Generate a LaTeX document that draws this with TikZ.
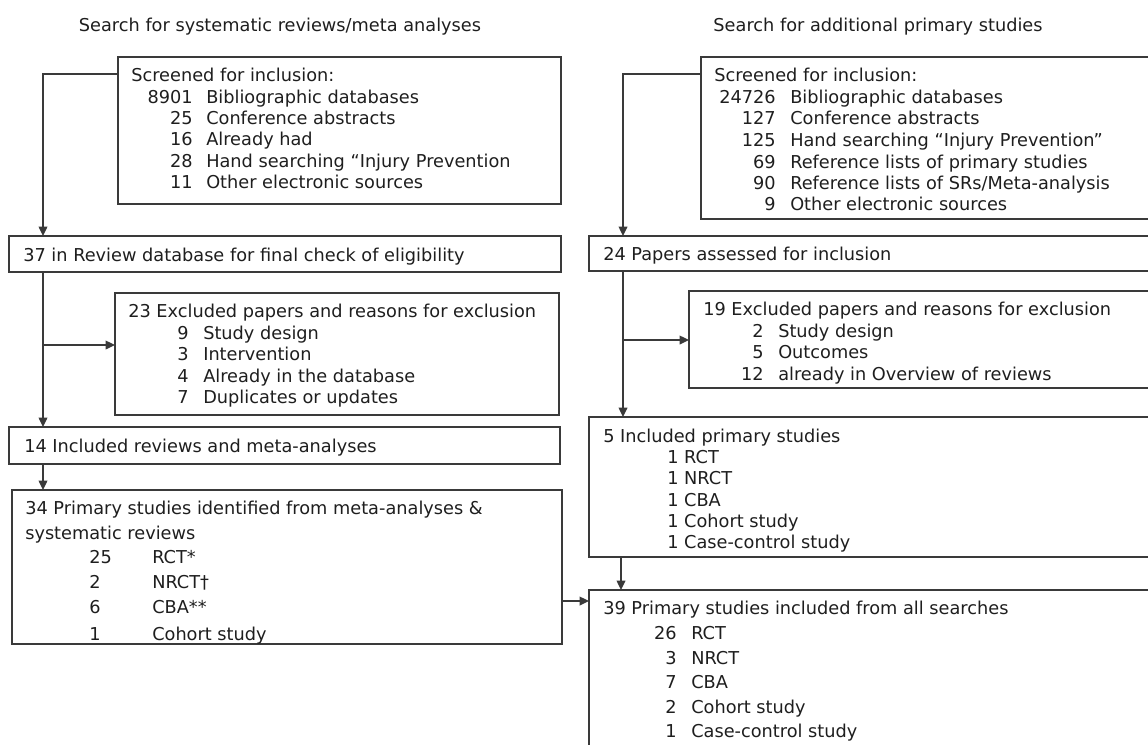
\documentclass[tikz,border=0pt]{standalone}
\usepackage{fontspec}
\setmainfont{DejaVu Sans}
\usetikzlibrary{arrows.meta,calc}
\definecolor{linec}{HTML}{3A3A3A}
\definecolor{txtc}{HTML}{1E1E1E}
\tikzset{
  box/.style={draw=linec, line width=1pt, inner sep=0pt, outer sep=0pt, anchor=north west},
  arr/.style={draw=linec, line width=1pt, -{Triangle[length=7pt,width=6.5pt]}},
  txt/.style={anchor=base west, inner sep=0pt, text=txtc},
  num/.style={anchor=base east, inner sep=0pt, text=txtc},
  ttl/.style={anchor=base, inner sep=0pt, text=txtc}
}
\newcommand\mkbox[5]{\node[box,minimum width={(#4-#2)*0.75pt},minimum height={(#5-#3)*0.75pt}] (#1) at (#2,#3) {};}
\begin{document}
\begin{tikzpicture}[x=0.75pt,y=-0.75pt,font=\fontsize{13.3}{16}\selectfont]
\useasboundingbox (0,0) rectangle (1148,744);
\clip (0,0) rectangle (1148,744);
% titles
\node[ttl] (t1) at (280,31) {Search for systematic reviews/meta analyses};
\node[ttl] (t2) at (878,31) {Search for additional primary studies};
% boxes
\mkbox{A1}{118}{57}{561}{204}
\mkbox{A2}{9}{236}{561}{272}
\mkbox{A3}{115}{293}{559}{415}
\mkbox{A4}{9}{427}{560}{464}
\mkbox{A5}{12}{490}{562}{644}
\mkbox{B1}{701}{57}{1160}{219}
\mkbox{B2}{589}{236}{1160}{271}
\mkbox{B3}{689}{291}{1160}{388}
\mkbox{B4}{589}{417}{1160}{557}
\mkbox{B5}{589}{590}{1160}{760}
% A1 text
\node[txt] (a1h) at (131,81) {Screened for inclusion:};
\node[num] (a1n1) at (193,103) {8901}; \node[txt] (a1l1) at (206,103) {Bibliographic databases};
\node[num] (a1n2) at (193,124) {25};   \node[txt] (a1l2) at (206,124) {Conference abstracts};
\node[num] (a1n3) at (193,145) {16};   \node[txt] (a1l3) at (206,145) {Already had};
\node[num] (a1n4) at (193,167) {28};   \node[txt] (a1l4) at (206,167) {Hand searching “Injury Prevention};
\node[num] (a1n5) at (193,188) {11};   \node[txt] (a1l5) at (206,188) {Other electronic sources};
% A2
\node[txt] (a2h) at (23,261) {37 in Review database for final check of eligibility};
% A3
\node[txt] (a3h) at (128,317) {23 Excluded papers and reasons for exclusion};
\node[num] (a3n1) at (189,339) {9}; \node[txt] (a3l1) at (203,339) {Study design};
\node[num] (a3n2) at (189,360) {3}; \node[txt] (a3l2) at (203,360) {Intervention};
\node[num] (a3n3) at (189,382) {4}; \node[txt] (a3l3) at (203,382) {Already in the database};
\node[num] (a3n4) at (189,403) {7}; \node[txt] (a3l4) at (203,403) {Duplicates or updates};
% A4
\node[txt] (a4h) at (24,452) {14 Included reviews and meta-analyses};
% A5
\begin{scope}
\clip (A5.north west) rectangle (A5.south east);
\node[txt] (a5h) at (25,514) {34 Primary studies identified from meta-analyses \&};
\node[txt] (a5h2) at (25,539) {systematic reviews};
\node[txt] (a5n1) at (89,563) {25}; \node[txt] (a5l1) at (152,563) {RCT*};
\node[txt] (a5n2) at (89,588) {2};  \node[txt] (a5l2) at (152,588) {NRCT†};
\node[txt] (a5n3) at (89,613) {6};  \node[txt] (a5l3) at (152,613) {CBA**};
\node[txt] (a5n4) at (89,640) {1};  \node[txt] (a5l4) at (152,640) {Cohort study};
\end{scope}
% B1
\node[txt] (b1h) at (714,81) {Screened for inclusion:};
\node[num] (b1n1) at (776,103) {24726}; \node[txt] (b1l1) at (790,103) {Bibliographic databases};
\node[num] (b1n2) at (776,124) {127};   \node[txt] (b1l2) at (790,124) {Conference abstracts};
\node[num] (b1n3) at (776,146) {125};   \node[txt] (b1l3) at (790,146) {Hand searching “Injury Prevention”};
\node[num] (b1n4) at (776,168) {69};    \node[txt] (b1l4) at (790,168) {Reference lists of primary studies};
\node[num] (b1n5) at (776,189) {90};    \node[txt] (b1l5) at (790,189) {Reference lists of SRs/Meta-analysis};
\node[num] (b1n6) at (776,210) {9};     \node[txt] (b1l6) at (790,210) {Other electronic sources};
% B2
\node[txt] (b2h) at (603,260) {24 Papers assessed for inclusion};
% B3
\node[txt] (b3h) at (703,315) {19 Excluded papers and reasons for exclusion};
\node[num] (b3n1) at (764,337) {2};  \node[txt] (b3l1) at (778,337) {Study design};
\node[num] (b3n2) at (764,358) {5};  \node[txt] (b3l2) at (778,358) {Outcomes};
\node[num] (b3n3) at (764,380) {12}; \node[txt] (b3l3) at (778,380) {already in Overview of reviews};
% B4
\node[txt] (b4h) at (603,442) {5 Included primary studies};
\node[txt] (b4l1) at (667,463) {1 RCT};
\node[txt] (b4l2) at (667,484) {1 NRCT};
\node[txt] (b4l3) at (667,506) {1 CBA};
\node[txt] (b4l4) at (667,527) {1 Cohort study};
\node[txt] (b4l5) at (667,548) {1 Case-control study};
% B5
\node[txt] (b5h) at (603,614) {39 Primary studies included from all searches};
\node[num] (b5n1) at (677,639) {26}; \node[txt] (b5l1) at (691,639) {RCT};
\node[num] (b5n2) at (677,664) {3};  \node[txt] (b5l2) at (691,664) {NRCT};
\node[num] (b5n3) at (677,688) {7};  \node[txt] (b5l3) at (691,688) {CBA};
\node[num] (b5n4) at (677,713) {2};  \node[txt] (b5l4) at (691,713) {Cohort study};
\node[num] (b5n5) at (677,737) {1};  \node[txt] (b5l5) at (691,737) {Case-control study};
% connectors left
\draw[arr] ($(A1.north west)+(0,17)$) -| ($(A2.north west)+(34,0)$);
\draw[arr] ($(A2.south west)+(34,0)$) -- ($(A4.north west)+(34,0)$);
\coordinate (jA) at ($(A2.south west)+(34,73)$);
\draw[arr] (jA) -- (jA -| A3.west);
\draw[arr] ($(A4.south west)+(34,0)$) -- ($(A5.north west)+(31,0)$);
\coordinate (jC) at ($(A5.north east)+(0,111)$);
\draw[arr] (jC) -- (jC -| B5.west);
% connectors right
\draw[arr] ($(B1.north west)+(0,17)$) -| ($(B2.north west)+(34,0)$);
\draw[arr] ($(B2.south west)+(34,0)$) -- ($(B4.north west)+(34,0)$);
\coordinate (jB) at ($(B2.south west)+(34,69)$);
\draw[arr] (jB) -- (jB -| B3.west);
\draw[arr] ($(B4.south west)+(32,0)$) -- ($(B5.north west)+(32,0)$);
\end{tikzpicture}
\end{document}
